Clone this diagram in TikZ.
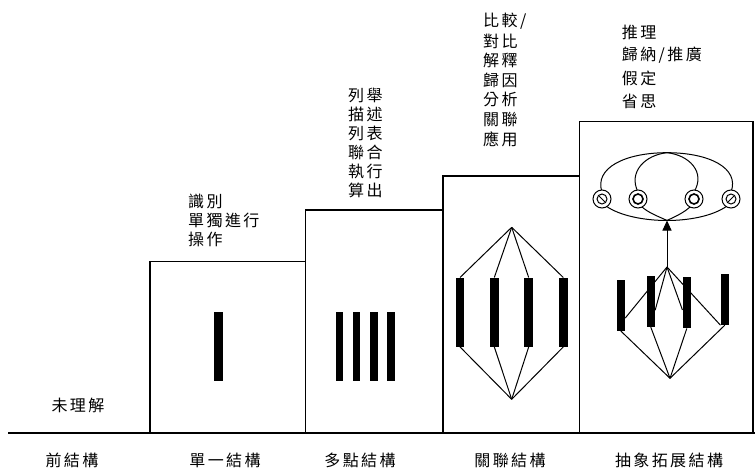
\documentclass[tikz,border=0pt]{standalone}
\usepackage{fontspec}
\newfontfamily\cjk[LetterSpace=15]{Noto Sans CJK TC}
\usetikzlibrary{arrows.meta,calc}
\begin{document}
\begin{tikzpicture}[x=1pt,y=-1pt,
  lbl/.style={font=\cjk\fontsize{16}{19}\selectfont, inner sep=0, anchor=west},
  clbl/.style={font=\cjk\fontsize{16}{19}\selectfont, inner sep=0, anchor=center},
  stepbox/.style={draw, line width=1.4pt, inner sep=0, fill=none},
  bar/.style={fill=black, inner sep=0, minimum width=8.5pt, minimum height=69pt},
  sbar/.style={fill=black, inner sep=0, minimum width=8.3pt, minimum height=51pt},
  conn/.style={line width=1pt},
  ring/.style={circle, draw, line width=1pt, fill=white, minimum size=18pt, inner sep=0},
  inring/.style={circle, draw, line width=1pt, minimum size=10pt, inner sep=0}]
\useasboundingbox (0,0) rectangle (755,471);

% steps
\node[stepbox, minimum width=155.7pt, minimum height=171.3pt] (s1) at (227.85,347.35) {};
\node[stepbox, minimum width=137.3pt, minimum height=223pt] (s2) at (374.35,321.5) {};
\node[stepbox, minimum width=136.5pt, minimum height=257pt] (s3) at (511.25,304.5) {};
\node[stepbox, minimum width=173.5pt, minimum height=311.5pt] (s4) at (666.25,277.25) {};
\coordinate (L) at (8,433);
\coordinate (R) at (755,433);
\draw[line width=1.4pt] (L) -- (R);

% single structure
\node[bar] (b1) at (218.3,346.7) {};

% multi-point
\foreach \x [count=\i] in {339.4,356.6,373.8,391} {
  \node[bar, minimum width=7.5pt] (m\i) at (\x,346.7) {};
}

% relational
\coordinate (t3) at (511.7,227.3);
\coordinate (u3) at (511.7,399.3);
\foreach \x [count=\i] in {460,494.3,528.7,563.3} {
  \node[bar] (r\i) at (\x,312.2) {};
  \draw[conn] (t3) -- (r\i.north);
  \draw[conn] (r\i.south) -- (u3);
}

% extended abstract: lower part
\coordinate (T2) at (667,267);
\coordinate (B2) at (670,378.3);
\node[sbar] (q1) at (620.8,305.3) {};
\node[sbar] (q2) at (650.8,301.5) {};
\node[sbar] (q3) at (686.8,302.8) {};
\node[sbar] (q4) at (724.8,299.5) {};
\draw[conn] (T2) -- ($(q1.south east)!0.25!(q1.north east)$);
\draw[conn] (T2) -- ($(q2.south east)!0.33!(q2.north east)$);
\draw[conn] (T2) -- ($(q3.south west)!0.36!(q3.north west)$);
\draw[conn] (T2) -- (q4.south west);
\foreach \i in {1,...,4} { \draw[conn] (q\i.south) -- (B2); }

% upper part
\coordinate (T1) at (667,152.7);
\coordinate (B1) at (667,220.5);
\draw[conn, -{Triangle[length=10pt,width=9pt]}] (T2) -- (B1);
\draw[conn] (T1) .. controls (625,152.7) and (594,168) .. (602,192);
\draw[conn] (T1) .. controls (709,152.7) and (740,168) .. (731,192);
\draw[conn] (T1) .. controls (645,155) and (628,172) .. (638,192);
\draw[conn] (T1) .. controls (689,155) and (706,172) .. (694,192);
\draw[conn] (606,206) .. controls (620,216) and (645,220.5) .. (B1);
\draw[conn] (727,206) .. controls (713,216) and (689,220.5) .. (B1);
\draw[conn] (641,206) .. controls (648,213) and (660,217) .. (B1);
\draw[conn] (691,206) .. controls (684,213) and (674,217) .. (B1);
\node[ring] (c1) at (602,199) {};
\node[ring] (c2) at (638,199) {};
\node[ring] (c3) at (694,199) {};
\node[ring] (c4) at (731,199) {};
\node[inring] (i1) at (c1) {};
\node[inring, line width=1.6pt] (i2) at (c2) {};
\node[inring, line width=1.6pt] (i3) at (c3) {};
\node[inring] (i4) at (c4) {};
\draw[conn] ($(c1)+(-2.8,-2.8)$) -- ($(c1)+(2.8,2.8)$);
\draw[conn] ($(c4)+(2.8,-2.8)$) -- ($(c4)+(-2.8,2.8)$);

% texts
\node[clbl] (pre) at (78,405) {未理解};
\foreach \t [count=\i] in {識別,單獨進行,操作} {
  \node[lbl] (a\i) at ({188},{201.7+19*(\i-1)}) {\t};
}
\foreach \t [count=\i] in {列舉,描述,列表,聯合,執行,算出} {
  \node[lbl] (d\i) at ({348},{95+19*(\i-1)}) {\t};
}
\foreach \t [count=\i] in {比較/,對比,解釋,歸因,分析,關聯,應用} {
  \node[lbl] (e\i) at ({483},{21.5+19.55*(\i-1)}) {\t};
}
\foreach \t [count=\i] in {推理,歸納/推廣,假定,省思} {
  \node[lbl] (f\i) at ({621.7},{32.5+23*(\i-1)}) {\t};
}
\node[clbl] (n0) at (72,460) {前結構};
\node[clbl] (n1) at (225,460) {單一結構};
\node[clbl] (n2) at (360,460) {多點結構};
\node[clbl] (n3) at (510,460) {關聯結構};
\node[clbl] (n4) at (669,460) {抽象拓展結構};
\end{tikzpicture}
\end{document}
